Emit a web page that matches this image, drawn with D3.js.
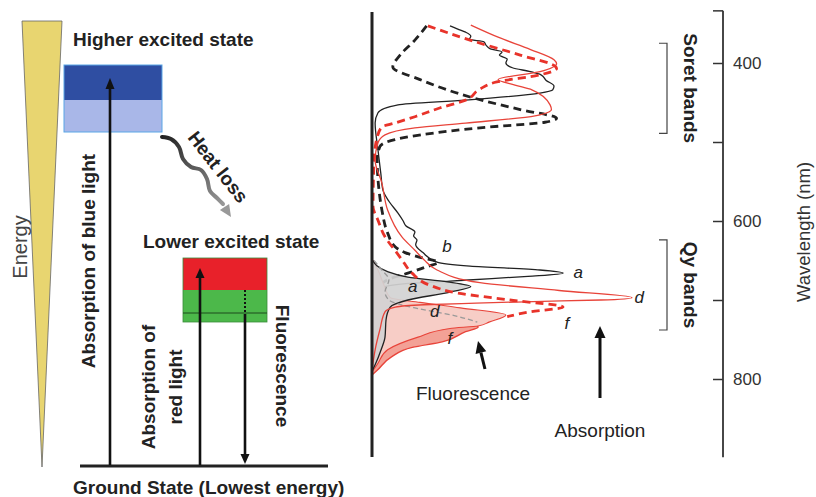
<!DOCTYPE html>
<html><head><meta charset="utf-8">
<script src="https://cdn.jsdelivr.net/npm/d3@7"></script>
<style>
body{margin:0;background:#fff}
text{font-family:"Liberation Sans",Arial,sans-serif}
</style></head><body>
<svg id="chart" width="816" height="497"></svg>
<script>
// spectra: [wavelength nm, relative intensity]
const absA = [[353,30],[357,33],[361,36],[366,38],[370,37.5],[373,43],[378,44],[382,45.5],[386,50],[390,49],[395,52],[400,51.5],[406,54],[411,61],[415,65],[422,67],[429,70],[434,69.5],[438,64.6],[447,36],[453,10],[463,2.3],[476,1.2],[510,2.3],[540,3.4],[561,4.2],[575,6.5],[590,10],[600,12],[606,13],[614,16.5],[619,16],[624,17.3],[630,16.8],[640,19.6],[652,25],[657,37.7],[662,64.6],[666,73.5],[670,60],[673,46],[676,30],[679,14],[683,5],[690,1],[700,0]];
const absB = [[353,21],[371,16.5],[390,10.8],[405,8],[421,18.5],[443,37.7],[459,57],[470,71],[475,66.5],[482,41.5],[489,23],[497,8.8],[506,3],[523,2],[561,2.7],[586,3.8],[615,6],[633,9],[640,12.7],[646,18.5],[652,25.4],[659,20],[666,13.8],[673,7],[685,2.3],[700,0.4]];
const absD = [[352,38],[368,49],[383,61],[396,70],[401,71],[411,64.6],[421,48.5],[428,55],[434,61.5],[453,68.5],[459,69],[467,62.7],[476,36],[482,16.5],[491,5],[501,2.3],[523,1.2],[552,3.8],[586,6],[620,11.5],[637,16.5],[649,20],[662,25],[678,41.5],[688,72],[697,100],[700,88],[702,62],[704,40],[706,20],[709,9],[715,5],[738,3],[763,1.2],[789,0]];
const absF = [[353,21.5],[371,37.7],[390,57],[404,70.4],[407,71],[415,64.6],[424,48],[433,41.5],[447,36],[457,26],[468,16.5],[476,8.8],[481,3.8],[494,2],[523,0.8],[582,0.4],[599,2.3],[620,5],[637,8.8],[649,11.5],[666,15.4],[681,22],[691,32.7],[700,53],[709,73.5],[715,60.8],[721,52]];
const fluA = [[649,0],[664,6],[671,13.8],[677,29],[683,38],[690,30],[700,13.8],[709,7],[725,5.4],[747,5],[763,3.5],[782,1.2],[790,0]];
const fluD = [[648,0],[662,2.3],[681,4.6],[697,7],[703,18.5],[710,34],[719,51.5],[728,45],[733,40.8],[736,30],[747,17.7],[763,6],[780,2.3],[791,0]];
const fluF = [[700,3],[712,15],[722,30],[730,40],[734.5,40.8],[740,36],[753,27],[760,15.5],[772,7.5],[789,2],[795,0]];
const fluDdash = [[650,0.8],[662,3.8],[674.5,6.5],[690,5],[700,6.5],[705,10],[711,18],[720,32],[728,40.5]];

const wlTicks = [400, 500, 600, 700, 800];
const wlLabels = [400, 600, 800];
const bands = [{name: "Soret bands", from: 375, to: 489}, {name: "Qy bands", from: 624, to: 738}];
const curveLabels = [
  {t: "b", wl: 639, i: 27}, {t: "a", wl: 672, i: 77.5}, {t: "d", wl: 704, i: 101},
  {t: "f", wl: 737, i: 74}, {t: "a", wl: 690, i: 13.8}, {t: "d", wl: 721, i: 22.3}, {t: "f", wl: 756, i: 29}
];

const svg = d3.select("#chart");
svg.append("rect").attr("width", 816).attr("height", 497).attr("fill", "#fff");

const wl = d3.scaleLinear().domain([400, 800]).range([63, 379]);
const inten = d3.scaleLinear().domain([0, 100]).range([372, 632]);

const line = d3.line().x(d => inten(d[1])).y(d => wl(d[0])).curve(d3.curveMonotoneY);
const area = d3.area().y(d => wl(d[0])).x0(inten(0)).x1(d => inten(d[1])).curve(d3.curveMonotoneY);

function arrow(g, x1, y1, x2, y2, color, w, hl, hw) {
  const a = Math.atan2(y2 - y1, x2 - x1);
  const bx = x2 - hl * Math.cos(a), by = y2 - hl * Math.sin(a);
  g.append("line").attr("x1", x1).attr("y1", y1).attr("x2", bx).attr("y2", by)
    .attr("stroke", color).attr("stroke-width", w);
  const px = -Math.sin(a) * hw / 2, py = Math.cos(a) * hw / 2;
  g.append("path").attr("d", `M${x2},${y2}L${bx + px},${by + py}L${bx - px},${by - py}Z`).attr("fill", color);
}

// ---------- left: energy diagram ----------
const left = svg.append("g");

left.append("path").attr("d", "M22,21L62,21L42,467Z").attr("fill", "#e8d570").attr("stroke", "#666").attr("stroke-width", 0.8);
left.append("text").attr("transform", "translate(20,247) rotate(-90)").attr("text-anchor", "middle")
  .attr("dominant-baseline", "central").attr("font-size", 20).attr("fill", "#444").text("Energy");

left.append("text").attr("x", 73).attr("y", 46).attr("font-size", 19).attr("font-weight", "bold").attr("fill", "#222").text("Higher excited state");
left.append("rect").attr("x", 64).attr("y", 65).attr("width", 98).attr("height", 35).attr("fill", "#2f4ea2");
left.append("rect").attr("x", 64).attr("y", 100).attr("width", 98).attr("height", 32).attr("fill", "#a9b7e8");
left.append("rect").attr("x", 64).attr("y", 65).attr("width", 98).attr("height", 67).attr("fill", "none").attr("stroke", "#5aa6e6").attr("stroke-width", 1);

left.append("text").attr("x", 143).attr("y", 248).attr("font-size", 19).attr("font-weight", "bold").attr("fill", "#222").text("Lower excited state");
left.append("rect").attr("x", 183).attr("y", 258).attr("width", 84).attr("height", 32).attr("fill", "#e8212a");
left.append("rect").attr("x", 183).attr("y", 290).attr("width", 84).attr("height", 32).attr("fill", "#4cb84a");
left.append("rect").attr("x", 183).attr("y", 258).attr("width", 84).attr("height", 64).attr("fill", "none").attr("stroke", "#3b8c3b").attr("stroke-width", 0.8);
left.append("line").attr("x1", 183).attr("x2", 267).attr("y1", 313).attr("y2", 313).attr("stroke", "#1d4a1d").attr("stroke-width", 1.2);

// ground state
left.append("line").attr("x1", 80).attr("x2", 328).attr("y1", 466).attr("y2", 466).attr("stroke", "#222").attr("stroke-width", 3);
left.append("text").attr("x", 73).attr("y", 494).attr("font-size", 19).attr("font-weight", "bold").attr("fill", "#222").text("Ground State (Lowest energy)");

arrow(left, 110, 465, 110, 78, "#111", 2.6, 11, 9);
arrow(left, 200, 465, 200, 268, "#111", 2.6, 10, 9);
left.append("line").attr("x1", 245).attr("x2", 245).attr("y1", 290).attr("y2", 314).attr("stroke", "#111").attr("stroke-width", 2).attr("stroke-dasharray", "2,2");
arrow(left, 245, 314, 245, 464, "#111", 2.6, 10, 9);

left.append("text").attr("transform", "translate(88,261) rotate(-90)").attr("text-anchor", "middle")
  .attr("dominant-baseline", "central").attr("font-size", 19).attr("font-weight", "bold").attr("fill", "#222").text("Absorption of blue light");
left.append("text").attr("transform", "translate(148,387) rotate(-90)").attr("text-anchor", "middle")
  .attr("dominant-baseline", "central").attr("font-size", 19).attr("font-weight", "bold").attr("fill", "#222").text("Absorption of");
left.append("text").attr("transform", "translate(175,387) rotate(-90)").attr("text-anchor", "middle")
  .attr("dominant-baseline", "central").attr("font-size", 19).attr("font-weight", "bold").attr("fill", "#222").text("red light");
left.append("text").attr("transform", "translate(282,366) rotate(90)").attr("text-anchor", "middle")
  .attr("dominant-baseline", "central").attr("font-size", 19).attr("font-weight", "bold").attr("fill", "#222").text("Fluorescence");

// heat loss squiggle
const grad = svg.append("defs").append("linearGradient").attr("id", "heat")
  .attr("gradientUnits", "userSpaceOnUse").attr("x1", 162).attr("y1", 137).attr("x2", 230).attr("y2", 217);
grad.append("stop").attr("offset", 0).attr("stop-color", "#222");
grad.append("stop").attr("offset", 1).attr("stop-color", "#aaa");
const wave = [[162,137],[171,139],[179,147],[183,159],[191,167],[201,170],[207,179],[210,191],[217,198],[223,204]];
left.append("path").attr("d", d3.line().curve(d3.curveCatmullRom)(wave)).attr("fill", "none")
  .attr("stroke", "url(#heat)").attr("stroke-width", 4).attr("stroke-linecap", "round");
arrow(left, 222, 203, 231, 217, "#999", 0.1, 12, 11);
left.append("text").attr("transform", "translate(218,167) rotate(52)").attr("text-anchor", "middle")
  .attr("dominant-baseline", "central").attr("font-size", 19).attr("font-weight", "bold").attr("fill", "#222").text("Heat loss");

// ---------- right: spectra ----------
const spec = svg.append("g");

spec.append("path").datum(absA).attr("d", line).attr("fill", "none").attr("stroke", "#222").attr("stroke-width", 1.3);
spec.append("path").datum(absB).attr("d", line).attr("fill", "none").attr("stroke", "#222").attr("stroke-width", 2.8).attr("stroke-dasharray", "8,5");

spec.append("path").datum(fluF).attr("d", area).attr("fill", "#f3a196").attr("stroke", "#e8443a").attr("stroke-width", 1.4);
spec.append("path").datum(fluD).attr("d", area).attr("fill", "#f7cdc6").attr("stroke", "#e8443a").attr("stroke-width", 1.1);
spec.append("path").datum(fluA).attr("d", area).attr("fill", "#d2d2d2").attr("fill-opacity", 0.92).attr("stroke", "#222").attr("stroke-width", 1.3);
spec.append("path").datum(fluDdash).attr("d", line).attr("fill", "none").attr("stroke", "#999").attr("stroke-width", 1.3).attr("stroke-dasharray", "5,3");

spec.append("path").datum(absD).attr("d", line).attr("fill", "none").attr("stroke", "#e8443a").attr("stroke-width", 1.3);
spec.append("path").datum(absF).attr("d", line).attr("fill", "none").attr("stroke", "#e8332a").attr("stroke-width", 2.8).attr("stroke-dasharray", "8,5");

spec.append("line").attr("x1", 372).attr("x2", 372).attr("y1", 12).attr("y2", 457).attr("stroke", "#222").attr("stroke-width", 3);

spec.selectAll("text.lab").data(curveLabels).join("text").attr("class", "lab")
  .attr("x", d => inten(d.i)).attr("y", d => wl(d.wl)).attr("font-size", 17).attr("font-style", "italic")
  .attr("fill", "#222").text(d => d.t);

arrow(spec, 485, 369, 478, 341, "#111", 3, 12, 11);
spec.append("text").attr("x", 473).attr("y", 400).attr("text-anchor", "middle").attr("font-size", 19).attr("fill", "#222").text("Fluorescence");
arrow(spec, 600, 398, 600, 326, "#111", 3, 12, 11);
spec.append("text").attr("x", 600).attr("y", 437).attr("text-anchor", "middle").attr("font-size", 19).attr("fill", "#222").text("Absorption");

// wavelength axis
const axisX = 723;
const ax = svg.append("g").attr("transform", `translate(${axisX},0)`)
  .call(d3.axisRight(wl).tickValues(wlTicks).tickFormat(d => wlLabels.includes(d) ? d : "")
    .tickSizeInner(-10).tickSizeOuter(0).tickPadding(10));
ax.select(".domain").remove();
ax.selectAll("line").attr("stroke", "#333").attr("stroke-width", 1.5);
ax.selectAll("text").attr("font-size", 17).attr("fill", "#333").attr("font-family", "Liberation Sans, Arial, sans-serif");
svg.append("line").attr("x1", axisX).attr("x2", axisX).attr("y1", wl(334)).attr("y2", wl(899)).attr("stroke", "#333").attr("stroke-width", 1.8);
svg.append("line").attr("x1", axisX - 10).attr("x2", axisX).attr("y1", wl(334)).attr("y2", wl(334)).attr("stroke", "#333").attr("stroke-width", 1.5);

bands.forEach(b => {
  const y0 = wl(b.from), y1 = wl(b.to);
  svg.append("path").attr("d", `M659,${y0}H667V${y1}H659`).attr("fill", "none").attr("stroke", "#444").attr("stroke-width", 1.2);
  svg.append("text").attr("transform", `translate(690,${(y0 + y1) / 2}) rotate(90)`).attr("text-anchor", "middle")
    .attr("dominant-baseline", "central").attr("font-size", 19).attr("font-weight", "bold").attr("fill", "#222").text(b.name);
});
svg.append("text").attr("transform", "translate(803,232) rotate(-90)").attr("text-anchor", "middle")
  .attr("dominant-baseline", "central").attr("font-size", 18.5).attr("fill", "#333").text("Wavelength (nm)");
</script></body></html>
